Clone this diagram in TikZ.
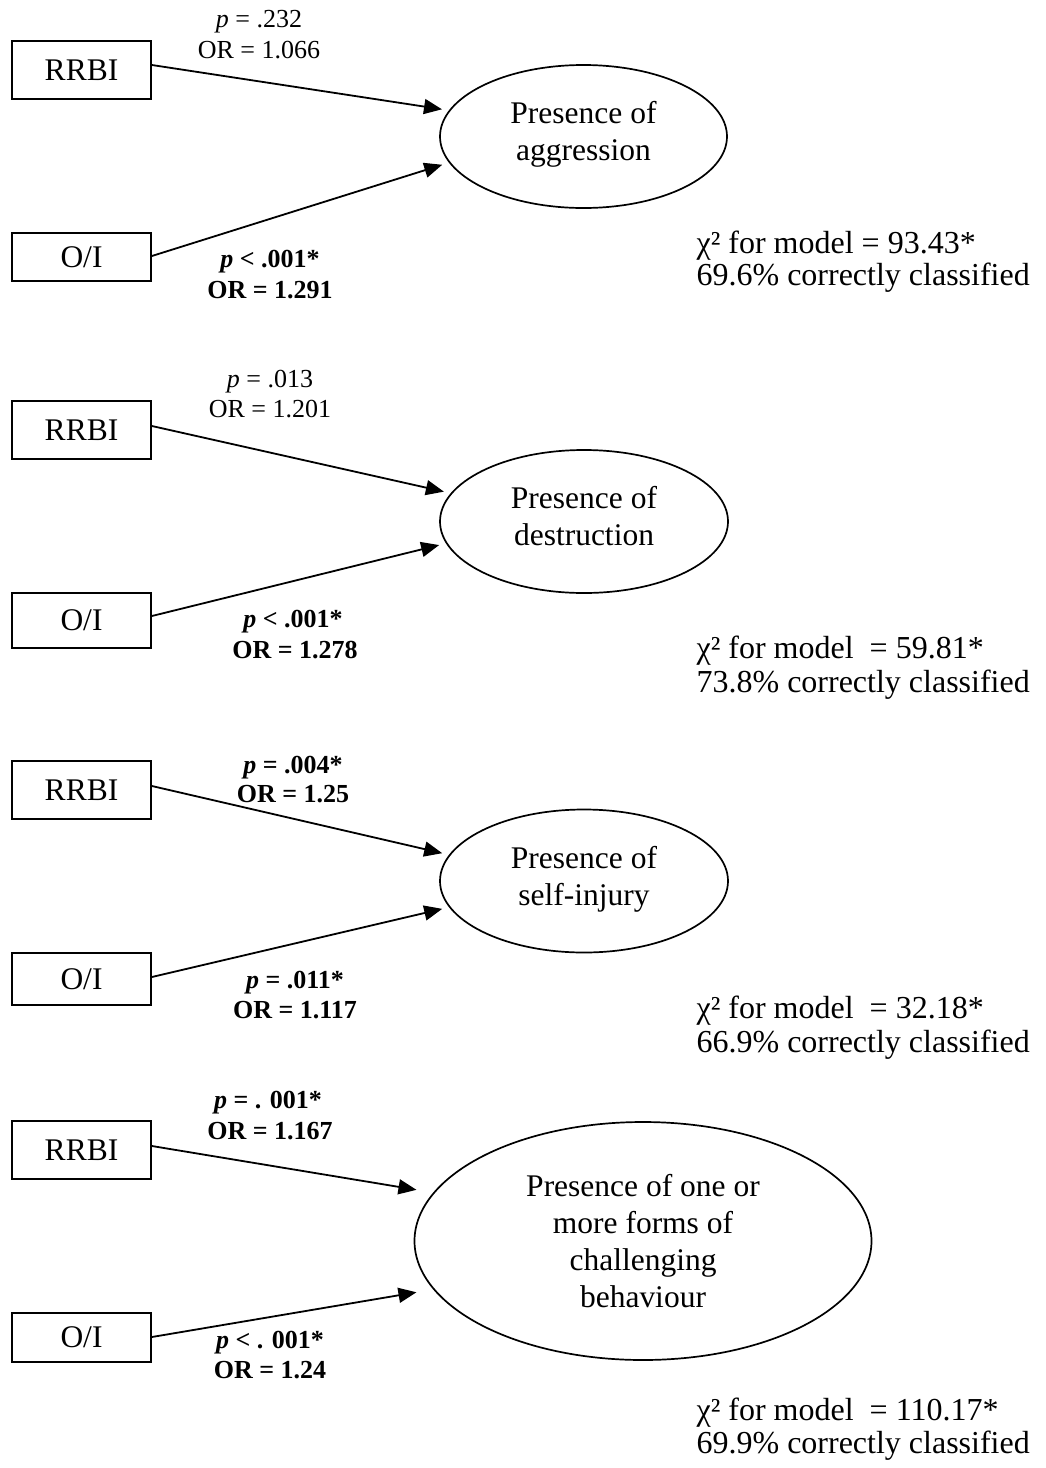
\documentclass[tikz,border=0pt]{standalone}
\usepackage{fontspec}
\setmainfont{Liberation Serif}
\usetikzlibrary{shapes.geometric,arrows.meta}
\begin{document}
\begin{tikzpicture}[x=1pt,y=-1pt,
  box/.style={draw,line width=1.8pt,minimum width=139pt,inner sep=0pt,font=\fontsize{31.5}{37}\selectfont},
  outcome/.style={draw,ellipse,line width=1.7pt,inner sep=0pt,align=center,font=\fontsize{31.5}{37}\selectfont},
  arr/.style={line width=1.8pt,-{Triangle[length=18pt,width=15pt]}},
  lbl/.style={anchor=base,inner sep=0pt,font=\fontsize{26}{31}\selectfont},
  blbl/.style={anchor=base,inner sep=0pt,font=\fontsize{26}{31}\selectfont\bfseries},
  chi/.style={inner sep=0pt,font=\fontsize{32}{36}\selectfont}]
\fill[white] (0,0) rectangle (1046,1468);
\useasboundingbox (0,0) rectangle (1046,1468);

% ---------- Group 1: aggression ----------
\node[box,minimum height=58pt] (r1) at (81.5,70) {RRBI};
\node[box,minimum height=48pt] (o1) at (81.5,257) {O/I};
\node[outcome,minimum width=287pt,minimum height=143pt] (e1) at (583.5,136.5) {Presence of\\aggression\strut};
\draw[arr,shorten >=7pt] ([yshift=5pt]r1.east) -- (e1.169.7);
\draw[arr,shorten >=7pt] ([yshift=1pt]o1.east) -- (e1.191.2);
\node[lbl] (a1p) at (259,27) {\textit{p} = .232};
\node[lbl] (a1o) at (259,58) {OR = 1.066};
\node[blbl] (b1p) at (270,267) {\textit{p} < .001*};
\node[blbl] (b1o) at (270,298) {OR = 1.291};
\node[chi,anchor=base east] (c1b) at (1030,285) {69.6\% correctly classified};
\node[chi,anchor=base west] (c1a) at (c1b.base west |- 0,253) {χ² for model = 93.43*};

% ---------- Group 2: destruction ----------
\node[box,minimum height=58pt] (r2) at (81.5,430) {RRBI};
\node[box,minimum height=55pt] (o2) at (81.5,620.5) {O/I};
\node[outcome,minimum width=288pt,minimum height=143pt] (e2) at (584,521.5) {Presence of\\destruction\strut};
\draw[arr,shorten >=7pt] ([yshift=4pt]r2.east) -- (e2.168.8);
\draw[arr,shorten >=7pt] ([yshift=4.5pt]o2.east) -- (e2.189.8);
\node[lbl] (a2p) at (270,387) {\textit{p} = .013};
\node[lbl] (a2o) at (270,417) {OR = 1.201};
\node[blbl] (b2p) at (293,627) {\textit{p} < .001*};
\node[blbl] (b2o) at (295,658) {OR = 1.278};
\node[chi,anchor=base east] (c2b) at (1030,692) {73.8\% correctly classified};
\node[chi,anchor=base west] (c2a) at (c2b.base west |- 0,658) {χ² for model\ \ = 59.81*};

% ---------- Group 3: self-injury ----------
\node[box,minimum height=58pt] (r3) at (81.5,790) {RRBI};
\node[box,minimum height=52pt] (o3) at (81.5,979) {O/I};
\node[outcome,minimum width=288pt,minimum height=143pt] (e3) at (584,881) {Presence of\\self-injury\strut};
\draw[arr,shorten >=7pt] ([yshift=4pt]r3.east) -- (e3.169.0);
\draw[arr,shorten >=7pt] ([yshift=2pt]o3.east) -- (e3.191.0);
\node[blbl] (a3p) at (293,773) {\textit{p} = .004*};
\node[blbl] (a3o) at (293,802) {OR = 1.25};
\node[blbl] (b3p) at (295,988) {\textit{p} = .011*};
\node[blbl] (b3o) at (295,1018) {OR = 1.117};
\node[chi,anchor=base east] (c3b) at (1030,1052) {66.9\% correctly classified};
\node[chi,anchor=base west] (c3a) at (c3b.base west |- 0,1018) {χ² for model\ \ = 32.18*};

% ---------- Group 4: one or more forms ----------
\node[box,minimum height=58pt] (r4) at (81.5,1150) {RRBI};
\node[box,minimum height=49pt] (o4) at (81.5,1337.5) {O/I};
\node[outcome,minimum width=457pt,minimum height=238pt] (e4) at (643,1241) {Presence of one or\\more forms of\\challenging\\behaviour};
\draw[arr,shorten >=17pt] ([yshift=4pt]r4.east) -- (e4.167.1);
\draw[arr,shorten >=17pt] ([yshift=0.5pt]o4.east) -- (e4.193.2);
\node[blbl] (a4p) at (268,1108) {\textit{p} = . 001*};
\node[blbl] (a4o) at (270,1139) {OR = 1.167};
\node[blbl] (b4p) at (270,1348) {\textit{p} < . 001*};
\node[blbl] (b4o) at (270,1378) {OR = 1.24};
\node[chi,anchor=base east] (c4b) at (1030,1453) {69.9\% correctly classified};
\node[chi,anchor=base west] (c4a) at (c4b.base west |- 0,1420) {χ² for model\ \ = 110.17*};
\end{tikzpicture}
\end{document}
